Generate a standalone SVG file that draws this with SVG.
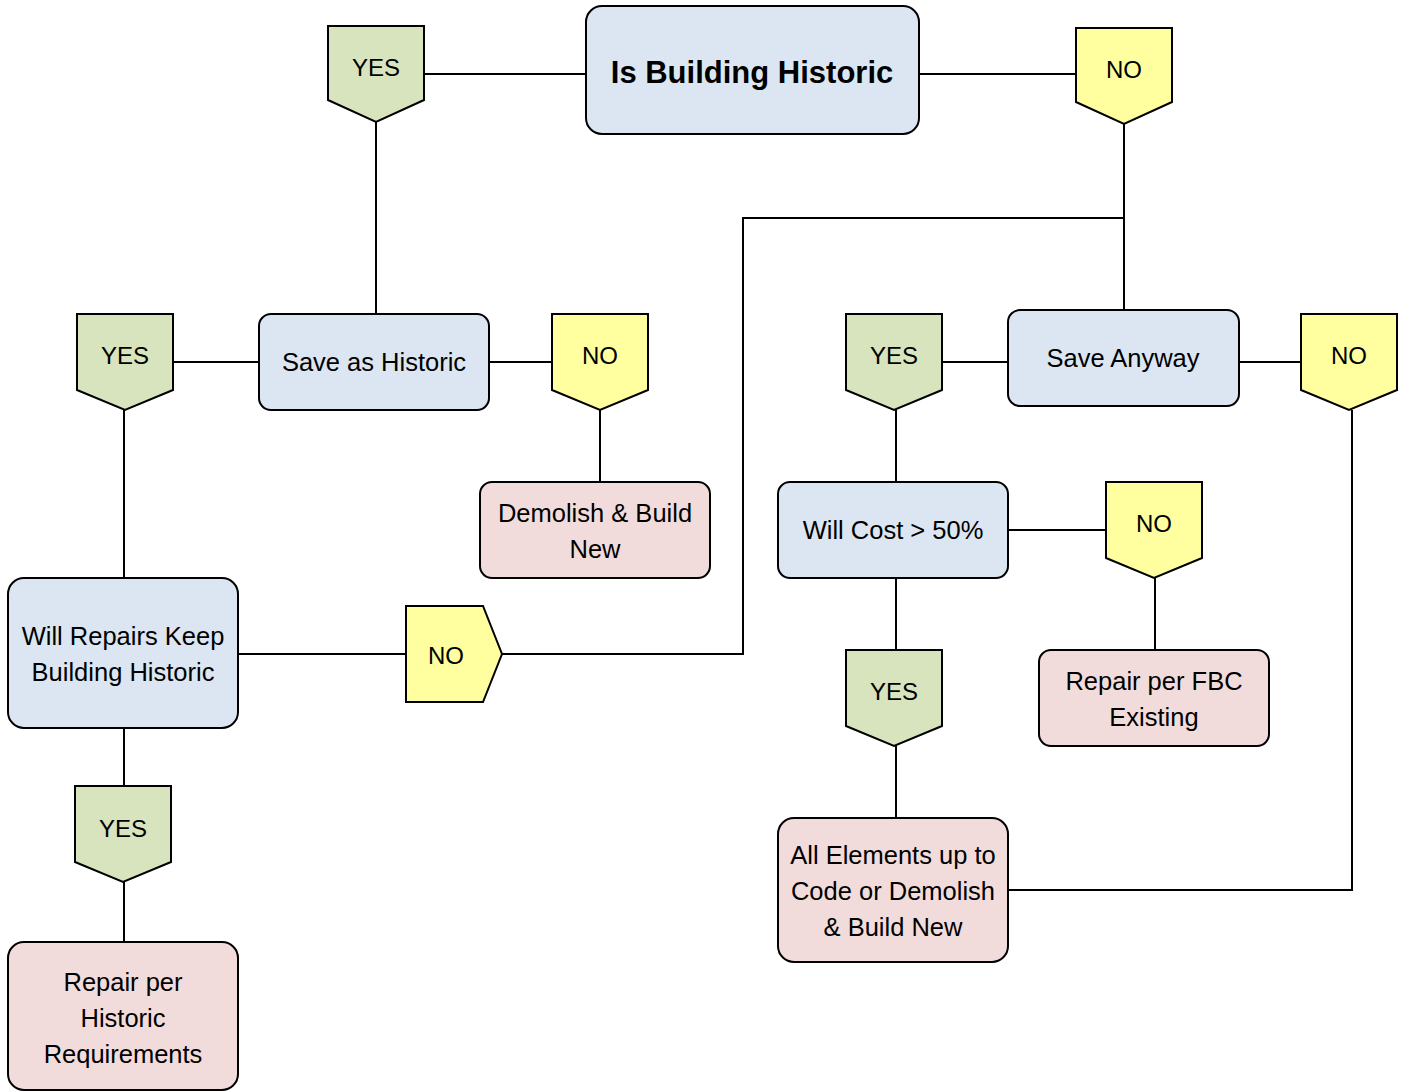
<svg xmlns="http://www.w3.org/2000/svg" width="1405" height="1092" viewBox="0 0 1405 1092">
<style>
.box{stroke:#000;stroke-width:2}
.blue{fill:#dce6f2}
.pink{fill:#f2dcdb}
.green{fill:#d7e4bd}
.yellow{fill:#ffff9f}
.t{font-family:"Liberation Sans",Arial,sans-serif;font-size:25.5px;text-anchor:middle;fill:#000}
.l{font-family:"Liberation Sans",Arial,sans-serif;font-size:24px;text-anchor:middle;fill:#000}
.b{font-family:"Liberation Sans",Arial,sans-serif;font-size:31px;font-weight:bold;text-anchor:middle;fill:#000}
.c{fill:none;stroke:#000;stroke-width:2}
</style>
<rect width="1405" height="1092" fill="#fff"/>
<g id="connectors" class="c">
<path d="M424,74 H586"/>
<path d="M919,74 H1076"/>
<path d="M376,122 V314"/>
<path d="M1124,124 V310"/>
<path d="M1124,218 H743 V654 H502"/>
<path d="M173,362 H259"/>
<path d="M489,362 H552"/>
<path d="M124,410 V578"/>
<path d="M600,410 V482"/>
<path d="M238,654 H406"/>
<path d="M124,728 V786"/>
<path d="M124,882 V942"/>
<path d="M942,362 H1008"/>
<path d="M1239,362 H1301"/>
<path d="M896,410 V482"/>
<path d="M1008,530 H1106"/>
<path d="M1155,578 V650"/>
<path d="M896,578 V650"/>
<path d="M896,746 V818"/>
<path d="M1352,410 V890 H1008"/>
</g>
<g id="n-historic"><rect class="box blue" x="586" y="6" width="333" height="128" rx="16"/><text class="b" x="752" y="83">Is Building Historic</text></g>
<g id="n-yes1"><path class="box green" d="M328,26 H424 V100 L376,122 L328,100 Z"/><text class="l" x="376" y="76">YES</text></g>
<g id="n-no1"><path class="box yellow" d="M1076,28 H1172 V102 L1124,124 L1076,102 Z"/><text class="l" x="1124" y="78">NO</text></g>
<g id="n-save-historic"><rect class="box blue" x="259" y="314" width="230" height="96" rx="12"/><text class="t" x="374" y="371">Save as Historic</text></g>
<g id="n-yes2"><path class="box green" d="M77,314 H173 V390 L125,410 L77,390 Z"/><text class="l" x="125" y="364">YES</text></g>
<g id="n-no2"><path class="box yellow" d="M552,314 H648 V390 L600,410 L552,390 Z"/><text class="l" x="600" y="364">NO</text></g>
<g id="n-demolish"><rect class="box pink" x="480" y="482" width="230" height="96" rx="12"/><text class="t" x="595" y="522">Demolish &amp; Build</text><text class="t" x="595" y="558">New</text></g>
<g id="n-will-repairs"><rect class="box blue" x="8" y="578" width="230" height="150" rx="16"/><text class="t" x="123" y="645">Will Repairs Keep</text><text class="t" x="123" y="681">Building Historic</text></g>
<g id="n-no3"><path class="box yellow" d="M406,606 H483 L502,654 L483,702 H406 Z"/><text class="l" x="446" y="664">NO</text></g>
<g id="n-yes3"><path class="box green" d="M75,786 H171 V862 L123,882 L75,862 Z"/><text class="l" x="123" y="837">YES</text></g>
<g id="n-repair-historic"><rect class="box pink" x="8" y="942" width="230" height="148" rx="16"/><text class="t" x="123" y="991">Repair per</text><text class="t" x="123" y="1027">Historic</text><text class="t" x="123" y="1063">Requirements</text></g>
<g id="n-save-anyway"><rect class="box blue" x="1008" y="310" width="231" height="96" rx="12"/><text class="t" x="1123" y="367">Save Anyway</text></g>
<g id="n-yes4"><path class="box green" d="M846,314 H942 V390 L894,410 L846,390 Z"/><text class="l" x="894" y="364">YES</text></g>
<g id="n-no4"><path class="box yellow" d="M1301,314 H1397 V390 L1349,410 L1301,390 Z"/><text class="l" x="1349" y="364">NO</text></g>
<g id="n-cost"><rect class="box blue" x="778" y="482" width="230" height="96" rx="12"/><text class="t" x="893" y="539">Will Cost &gt; 50%</text></g>
<g id="n-no5"><path class="box yellow" d="M1106,482 H1202 V558 L1154,578 L1106,558 Z"/><text class="l" x="1154" y="532">NO</text></g>
<g id="n-fbc"><rect class="box pink" x="1039" y="650" width="230" height="96" rx="12"/><text class="t" x="1154" y="690">Repair per FBC</text><text class="t" x="1154" y="726">Existing</text></g>
<g id="n-yes5"><path class="box green" d="M846,650 H942 V726 L894,746 L846,726 Z"/><text class="l" x="894" y="700">YES</text></g>
<g id="n-all-elements"><rect class="box pink" x="778" y="818" width="230" height="144" rx="16"/><text class="t" x="893" y="864">All Elements up to</text><text class="t" x="893" y="900">Code or Demolish</text><text class="t" x="893" y="936">&amp; Build New</text></g>
</svg>
